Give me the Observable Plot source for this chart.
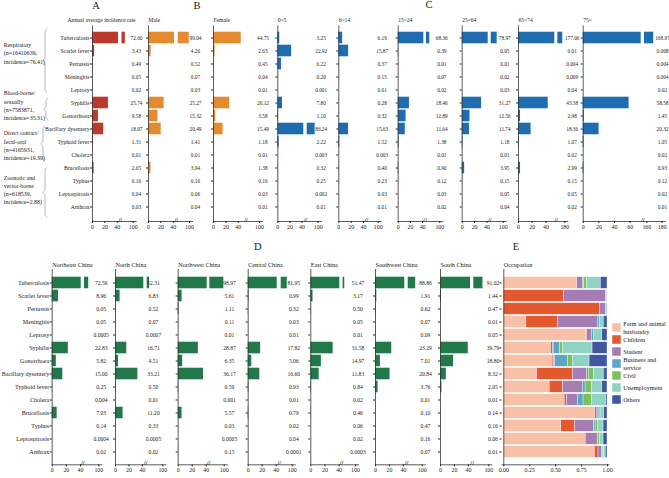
<!DOCTYPE html>
<html><head><meta charset="utf-8">
<script src="https://cdn.jsdelivr.net/npm/d3@7"></script>
<script src="https://cdn.jsdelivr.net/npm/@observablehq/plot@0.6"></script>
<style>
body{margin:0;background:#fff}
#fig{position:relative;width:669px;height:478px;font-family:"Liberation Serif",serif;overflow:hidden;background:#fff;color:#222}
#fig svg{position:absolute;left:0;top:0;overflow:visible}
.lt{position:absolute;font-size:10.5px;transform:translate(-50%,-50%);line-height:1}
</style></head><body><div id="fig"></div>
<script>
// ---------------- data ----------------
const diseases = ["Tuberculosis","Scarlet fever","Pertussis","Meningitis","Leprosy","Syphilis","Gonorrhoea","Bacillary dysentery","Typhoid fever","Cholera","Brucellosis","Typhus","Leptospirosis","Anthrax"];

const overallRate = ["72.60","3.43","0.49","0.05","0.02","25.74","9.58","18.07","1.31","0.01","2.65","0.16","0.04","0.03"];
const maleRate    = ["99.04","4.26","0.52","0.07","0.03","25.27","15.32","20.49","1.41","0.01","3.94","0.16","0.06","0.04"];
const femaleRate  = ["44.75","2.63","0.45","0.04","0.01","26.12","3.58","15.49","1.18","0.01","1.38","0.16","0.03","0.01"];
const age0to5     = ["3.25","22.92","6.22","0.20","0.001","7.80","1.10","86.24","2.22","0.003","0.32","0.25","0.002","0.01"];
const age6to14    = ["6.19","15.87","0.37","0.15","0.01","0.28","0.32","15.63","1.52","0.003","0.40","0.23","0.03","0.01"];
const age15to24   = ["68.36","0.39","0.01","0.07","0.02","18.46","12.89","11.64","1.38","0.01","0.90","0.12","0.03","0.02"];
const age25to64   = ["78.97","0.05","0.01","0.02","0.03","31.27","12.56","11.74","1.18","0.01","3.95","0.15","0.05","0.04"];
const age65to74   = ["177.06","0.01","0.004","0.009","0.04","43.38","2.98","18.36","1.07","0.02","2.99","0.15","0.05","0.02"];
const age75plus   = ["168.97","0.008","0.004","0.004","0.02","58.58","1.45","20.32","1.05","0.02","0.93","0.12","0.02","0.01"];

const northeast = ["72.56","8.96","0.05","0.05","0.0005","22.83","5.82","15.00","0.25","0.004","7.03","0.14","0.0004","0.02"];
const north     = ["52.31","6.83","0.52","0.07","0.0007","16.71","4.51","33.21","0.50","0.01","11.20","0.33","0.0005","0.02"];
const northwest = ["98.97","5.61","1.11","0.11","0.01","28.87","6.35","36.17","0.59","0.001","5.57","0.03","0.0005","0.15"];
const central   = ["81.95","0.99","0.32","0.03","0.01","17.82","5.06","16.60","0.93","0.01","0.79","0.02","0.04","0.0001"];
const east      = ["51.47","3.17","0.50","0.05","0.01","31.58","14.97","11.83","0.84","0.02","0.46","0.06","0.02","0.0003"];
const southwest = ["88.86","1.91","0.62","0.07","0.09","23.29","7.01","20.84","3.76","0.01","0.10","0.47","0.16","0.07"];
const south     = ["91.02","1.44","0.47","0.01","0.05","39.79","18.80","8.32","2.05","0.01","0.14","0.16","0.06","0.01"];

const groupNames = ["Respiratory\n(n=16410639,\nincidence=76.41)","Blood-borne/\nsexually\n(n=7583871,\nincidence=35.31)","Direct contact/\nfecal-oral\n(n=4165931,\nincidence=19.39)","Zoonotic and\nvector-borne\n(n=618539,\nincidence=2.88)"];
const groupFirst = [0,5,7,10];
const groupLast  = [4,6,9,13];

const occCategories = ["Farm and animal husbandry","Children","Student","Business and service","Civil","Unemployment","Others"];
const occLegendLabels = ["Farm and animal\nhusbandry","Children","Student","Business and\nservice","Civil","Unemployment","Others"];
const occColors = ["#F8C0A6","#E4582F","#A67CB4","#5BA5C8","#7CC15A","#8FD3C2","#3F58A0"];
const occFarm         = [0.705,0.000,0.000,0.218,0.795,0.455,0.471,0.321,0.442,0.587,0.881,0.554,0.788,0.878];
const occChildren     = [0.003,0.583,0.930,0.304,0.010,0.019,0.013,0.346,0.128,0.022,0.016,0.135,0.000,0.035];
const occStudent      = [0.055,0.404,0.054,0.385,0.045,0.006,0.013,0.135,0.192,0.106,0.016,0.183,0.115,0.035];
const occBusiness     = [0.013,0.003,0.000,0.019,0.022,0.064,0.122,0.019,0.026,0.054,0.010,0.013,0.006,0.010];
const occCivil        = [0.029,0.000,0.000,0.000,0.000,0.026,0.045,0.048,0.064,0.080,0.010,0.026,0.016,0.010];
const occUnemployment = [0.131,0.007,0.016,0.038,0.077,0.285,0.163,0.096,0.096,0.138,0.035,0.051,0.035,0.016];
const occOthers       = [0.064,0.003,0.000,0.035,0.051,0.144,0.173,0.035,0.051,0.013,0.032,0.038,0.038,0.016];

const tickLabels100 = [0,20,40,100];
const ticks6574 = [0,20,40,180];
const ticks75 = [0,20,40,60,160,180];
const occTicks = [0,0.25,0.5,0.75,1];

// ---------------- layout ----------------
const W = 669, H = 478;
const FONT = "Liberation Serif";
const TOP = {mt: 25.4, axisY: 221, r: [25.4, 219.6], titleDy: -7.7, labelSize: 5.7, valueSize: 5.3, titleSize: 5.6};
const BOT = {mt: 269, axisY: 464.3, r: [269, 464.3], titleDy: -7.4, labelSize: 6.1, valueSize: 5.6, titleSize: 6.2};
const RED = "#BC3A2C", ORANGE = "#E58A2E", BLUE = "#1F6DB0", GREEN = "#21794A";
const fig = document.getElementById("fig");
const baseStyle = {fontFamily: FONT, fontSize: "5.6px", background: "transparent", overflow: "visible", color: "#222"};

function ratePanel(c) {
  const S = c.sec;
  const range = c.px.map(p => c.x0 + p);
  const axisEnd = c.x0 + c.px[c.px.length - 1] + 3;
  const L = c.dom[1], U = c.dom[2];
  const segs = [];
  diseases.forEach((d, i) => {
    const v = +c.vals[i];
    segs.push({d, a: 0, b: Math.min(v, L)});
    if (v > U) segs.push({d, a: U, b: v});
  });
  return Plot.plot({
    width: W, height: H,
    marginLeft: c.x0, marginRight: W - axisEnd, marginTop: S.mt, marginBottom: H - S.axisY,
    style: baseStyle,
    x: {type: "linear", domain: c.dom, range},
    y: {type: "band", domain: diseases, range: S.r, padding: 0},
    marks: [
      Plot.barX(segs, {y: "d", x1: "a", x2: "b", fill: c.color, insetTop: 0.7, insetBottom: 0.7}),
      Plot.ruleX([0], {stroke: "#333", strokeWidth: 0.8}),
      Plot.frame({anchor: "bottom", stroke: "#333", strokeWidth: 0.8}),
      Plot.axisY({tickSize: 2, tickPadding: 1, fontSize: S.labelSize, label: null, tickFormat: c.yLabels ? (d => d) : (() => "")}),
      Plot.axisX({ticks: c.ticks, tickSize: 2, tickPadding: 1, fontSize: 5.9, label: null, tickFormat: d => String(d)}),
      Plot.text(["//"], {x: () => (L + U) / 2, frameAnchor: "bottom", fontSize: 6.5, fontWeight: "bold"}),
      Plot.text(diseases, {y: d => d, text: (d, i) => c.vals[i], frameAnchor: "left", dx: c.textDx, textAnchor: "middle", fontSize: S.valueSize}),
      Plot.text([c.title], {frameAnchor: "top-left", dx: c.titleDx || 0, dy: S.titleDy, textAnchor: c.titleAnchor || "start", fontSize: S.titleSize})
    ]
  });
}

const panels = [
  {vals: overallRate, color: RED, x0: 92, dom: [0,42,61,100], px: [0,26,29.5,40.7], ticks: tickLabels100, textDx: 44, title: "Annual average incidence rate", titleDx: 9, titleAnchor: "middle", yLabels: true, sec: TOP},
  {vals: maleRate, color: ORANGE, x0: 148, dom: [0,42,60,100], px: [0,26,29.7,41], ticks: tickLabels100, textDx: 47, title: "Male", sec: TOP},
  {vals: femaleRate, color: ORANGE, x0: 213, dom: [0,50,60,100], px: [0,31,34,46], ticks: tickLabels100, textDx: 49.5, title: "Female", sec: TOP},
  {vals: age0to5, color: BLUE, x0: 277.3, dom: [0,43,50,100], px: [0,26,29.4,40.4], ticks: tickLabels100, textDx: 43.4, title: "0~5", sec: TOP},
  {vals: age6to14, color: BLUE, x0: 338.3, dom: [0,42,60,100], px: [0,26,29.5,39.4], ticks: tickLabels100, textDx: 43.4, title: "6~14", sec: TOP},
  {vals: age15to24, color: BLUE, x0: 397.7, dom: [0,42,58,100], px: [0,25.6,28.3,41.6], ticks: tickLabels100, textDx: 43.6, title: "15~24", sec: TOP},
  {vals: age25to64, color: BLUE, x0: 461.7, dom: [0,42,58,100], px: [0,26,29,41], ticks: tickLabels100, textDx: 42.6, title: "25~64", sec: TOP},
  {vals: age65to74, color: BLUE, x0: 518, dom: [0,53,170,180], px: [0,36.3,39.3,46.3], ticks: ticks6574, textDx: 53.7, title: "65~74", sec: TOP},
  {vals: age75plus, color: BLUE, x0: 582.7, dom: [0,74,157,180], px: [0,58,61.3,79], ticks: ticks75, textDx: 79.3, title: "75~", sec: TOP},
  {vals: northeast, color: GREEN, x0: 51.7, dom: [0,41,61,100], px: [0,29,32.3,46.6], ticks: tickLabels100, textDx: 49, title: "Northeast China", yLabels: true, sec: BOT},
  {vals: north, color: GREEN, x0: 115, dom: [0,42,44,100], px: [0,28.3,31.7,47.3], ticks: tickLabels100, textDx: 38, title: "North China", sec: BOT},
  {vals: northwest, color: GREEN, x0: 177.7, dom: [0,41.5,60,100], px: [0,29,31.6,46], ticks: tickLabels100, textDx: 51.3, title: "Northwest China", sec: BOT},
  {vals: central, color: GREEN, x0: 247.7, dom: [0,41.5,60,100], px: [0,29,33,44], ticks: tickLabels100, textDx: 45.6, title: "Central China", sec: BOT},
  {vals: east, color: GREEN, x0: 310.3, dom: [0,41,44,100], px: [0,29,32.3,44.7], ticks: tickLabels100, textDx: 47.2, title: "East China", sec: BOT},
  {vals: southwest, color: GREEN, x0: 375, dom: [0,42,76,100], px: [0,29.3,32.7,46.7], ticks: tickLabels100, textDx: 50, title: "Southwest China", sec: BOT},
  {vals: south, color: GREEN, x0: 440, dom: [0,43,77,100], px: [0,30,33.3,48.3], ticks: tickLabels100, textDx: 52.5, title: "South China", sec: BOT}
];
panels.forEach(c => fig.appendChild(ratePanel(c)));

// ---- group labels and braces (top left) ----
const groupLabelRow = [1.44, 5.2, 8.09, 11.27];
const braceX = [44.5, 45.5, 42.5, 44.5];
const braceData = [];
groupFirst.forEach((s, g) => {
  const e = groupLast[g], t = s - 0.3, b = e + 0.3, m = (t + b) / 2, k = 0.2, x = braceX[g];
  [[x + 2, t], [x, t + k], [x, m - k], [x - 2, m], [x, m + k], [x, b - k], [x + 2, b]].forEach(([px, py]) => braceData.push({g, x: px, y: py}));
});
fig.appendChild(Plot.plot({
  width: W, height: H, marginLeft: 3.3, marginRight: 0, marginTop: TOP.r[0], marginBottom: H - TOP.r[1],
  style: baseStyle,
  x: {domain: [3.3, W], range: [3.3, W], axis: null},
  y: {domain: [-0.5, 13.5], range: TOP.r, axis: null},
  marks: [
    Plot.line(braceData, {x: "x", y: "y", z: "g", curve: "monotone-y", stroke: "#9a9a9a", strokeWidth: 0.7}),
    Plot.text(groupNames, {y: (d, i) => groupLabelRow[i], frameAnchor: "left", textAnchor: "start", lineAnchor: "middle", lineHeight: 1.38, fontSize: 5.9})
  ]
}));

// ---- E: occupation stacked bars ----
const occSeries = [occFarm, occChildren, occStudent, occBusiness, occCivil, occUnemployment, occOthers];
const occData = [];
diseases.forEach((d, i) => occCategories.forEach((cat, j) => occData.push({d, cat, share: occSeries[j][i]})));
fig.appendChild(Plot.plot({
  width: W, height: H, marginLeft: 501.5, marginRight: W - 608.5, marginTop: BOT.mt, marginBottom: H - BOT.axisY,
  style: baseStyle,
  x: {domain: [0, 1], range: [503.3, 607]},
  y: {type: "band", domain: diseases, range: BOT.r, padding: 0},
  color: {domain: occCategories, range: occColors},
  marks: [
    Plot.barX(occData, Plot.stackX({y: "d", x: "share", fill: "cat", order: occCategories, offset: "normalize", insetTop: 0.7, insetBottom: 0.7, stroke: "white", strokeWidth: 0.35})),
    Plot.ruleX([0], {stroke: "#333", strokeWidth: 0.8}),
    Plot.frame({anchor: "bottom", stroke: "#333", strokeWidth: 0.8}),
    Plot.axisY({tickSize: 2, label: null, tickFormat: () => ""}),
    Plot.axisX({ticks: occTicks, tickSize: 2, tickPadding: 1, fontSize: 5.9, label: null, tickFormat: d3.format(".2f")}),
    Plot.text(["Occupation"], {frameAnchor: "top-left", dx: 1.8, dy: BOT.titleDy, textAnchor: "start", fontSize: BOT.titleSize})
  ]
}));

// ---- E legend ----
fig.appendChild(Plot.plot({
  width: W, height: H, marginLeft: 611.7, marginRight: 0, marginTop: 319.8, marginBottom: H - 406.3,
  style: baseStyle,
  x: {domain: [0, 1], axis: null},
  y: {type: "band", domain: occCategories, range: [319.8, 406.3], padding: 0, axis: null},
  color: {domain: occCategories, range: occColors},
  marks: [
    Plot.dot(occCategories, {y: d => d, fill: d => d, symbol: "square", r: 4.8, frameAnchor: "left", dx: 4.3}),
    Plot.text(occCategories, {y: d => d, text: (d, i) => occLegendLabels[i], frameAnchor: "left", dx: 11, textAnchor: "start", lineAnchor: "middle", lineHeight: 1.18, fontSize: 6.3})
  ]
}));

// ---- panel letters ----
[["A", 96, 6], ["B", 197, 6], ["C", 429, 5], ["D", 257.7, 247.3], ["E", 516, 247.3]].forEach(([t, x, y]) => {
  const el = document.createElement("div");
  el.className = "lt"; el.textContent = t; el.style.left = x + "px"; el.style.top = y + "px";
  fig.appendChild(el);
});
</script></body></html>
